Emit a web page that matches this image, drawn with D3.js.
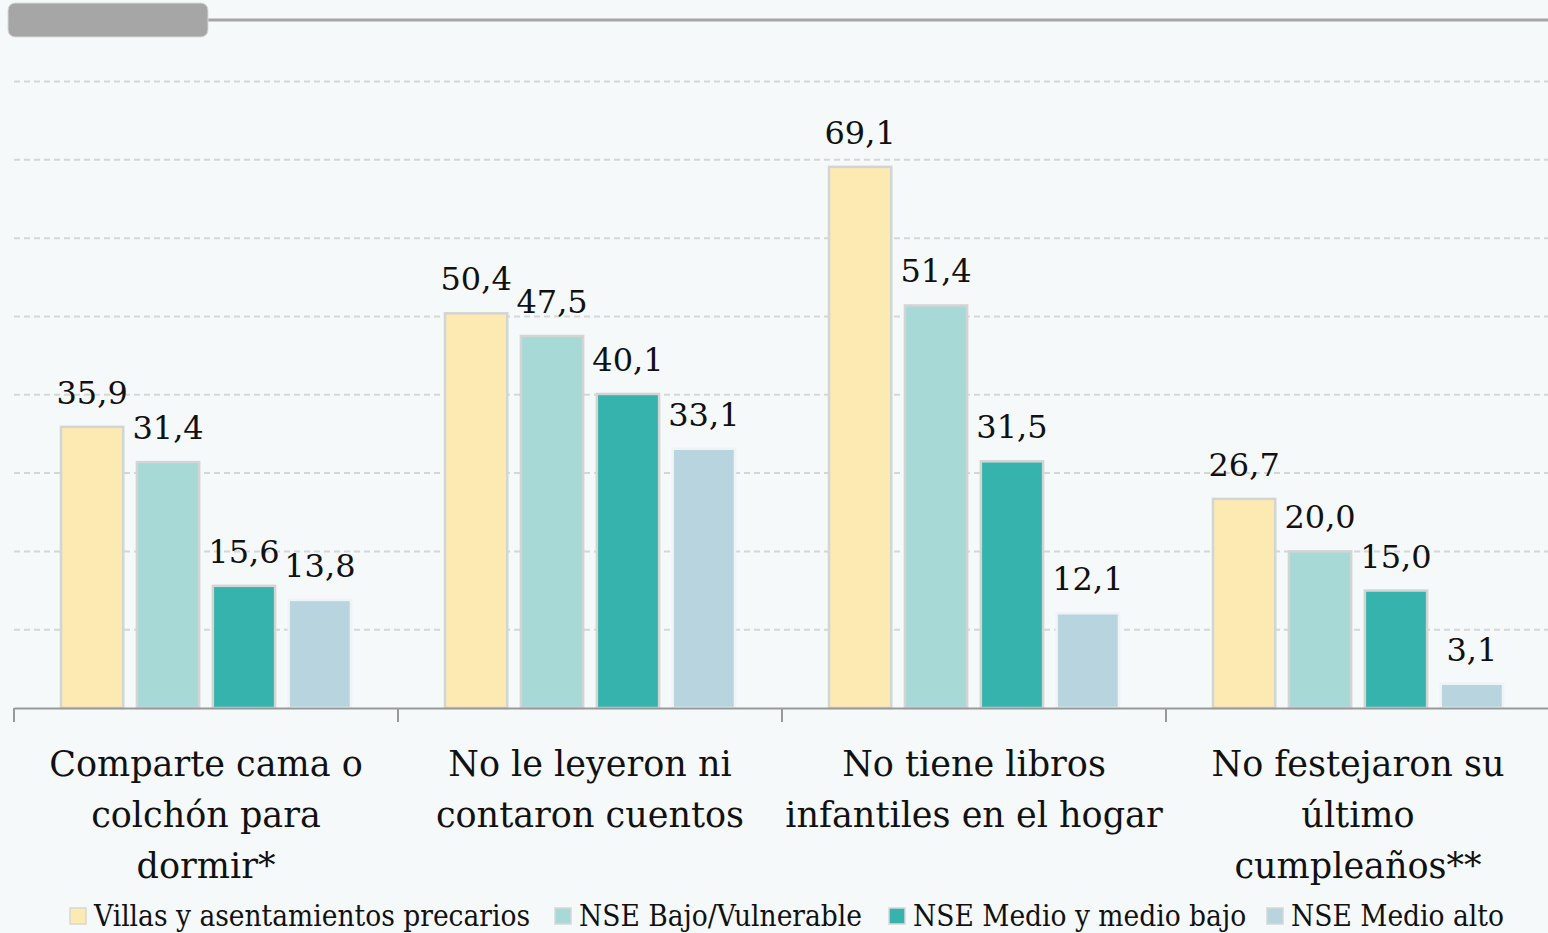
<!DOCTYPE html>
<html><head><meta charset="utf-8">
<script src="https://cdn.jsdelivr.net/npm/d3@7"></script>
<style>
html,body{margin:0;padding:0;background:#f5f9fa;}
svg{display:block;}
</style></head>
<body>
<svg id="chart" width="1548" height="933"></svg>
<script>
const categories = [
  ["Comparte cama o", "colchón para", "dormir*"],
  ["No le leyeron ni", "contaron cuentos"],
  ["No tiene libros", "infantiles en el hogar"],
  ["No festejaron su", "último", "cumpleaños**"]
];
const seriesNames = ["Villas y asentamientos precarios", "NSE Bajo/Vulnerable", "NSE Medio y medio bajo", "NSE Medio alto"];
const villas = [35.9, 50.4, 69.1, 26.7];
const bajo = [31.4, 47.5, 51.4, 20.0];
const medio = [15.6, 40.1, 31.5, 15.0];
const alto = [13.8, 33.1, 12.1, 3.1];
const yTicks = [0, 10, 20, 30, 40, 50, 60, 70, 80];
const colors = ["#fde9b2", "#a7d9d7", "#37b3ad", "#b8d4df"];

const series = [villas, bajo, medio, alto];
const svg = d3.select("#chart");
const W = 1548, H = 933;
svg.append("rect").attr("width", W).attr("height", H).attr("fill", "#f5f9fa");

const catIdx = d3.range(categories.length);
const x0 = d3.scaleBand().domain(catIdx).range([14, 1550]).padding(0);
const x1 = d3.scaleBand().domain(d3.range(series.length)).range([47, 337]).paddingInner(0.18);
const y = d3.scaleLinear().domain([0, 80]).range([708, 81.5]);

// top decoration
svg.append("line").attr("x1", 200).attr("x2", W).attr("y1", 20).attr("y2", 20)
  .attr("stroke", "#a6a6a6").attr("stroke-width", 3);
svg.append("rect").attr("x", 8).attr("y", 3).attr("width", 200).attr("height", 34)
  .attr("rx", 7).attr("fill", "#a6a6a6").attr("stroke", "#d9d9d9").attr("stroke-width", 1);

// gridlines
svg.append("g").selectAll("line").data(yTicks.filter(d => d > 0)).join("line")
  .attr("x1", 14).attr("x2", W).attr("y1", d => y(d)).attr("y2", d => y(d))
  .attr("stroke", "#d6d6d6").attr("stroke-width", 2).attr("stroke-dasharray", "6,4");

// bars
const groups = svg.append("g").selectAll("g").data(catIdx).join("g")
  .attr("transform", c => `translate(${x0(c)},0)`);
groups.selectAll("rect").data(c => series.map((s, i) => ({ i, v: s[c] }))).join("rect")
  .attr("x", d => x1(d.i)).attr("width", x1.bandwidth())
  .attr("y", d => y(d.v)).attr("height", d => y(0) - y(d.v))
  .attr("fill", d => colors[d.i])
  .attr("stroke", d => d.i === 3 ? "#eef3f5" : "#d3d5d5").attr("stroke-width", 2.5);
groups.selectAll("text").data(c => series.map((s, i) => ({ i, v: s[c] }))).join("text")
  .attr("x", d => x1(d.i) + x1.bandwidth() / 2).attr("y", d => y(d.v) - 23)
  .attr("text-anchor", "middle")
  .attr("font-family", "DejaVu Serif").attr("font-size", 32).attr("fill", "#111")
  .text(d => d.v.toFixed(1).replace(".", ","));

// axis
const axis = d3.axisBottom(x0).tickValues([]).tickSizeOuter(0);
const ax = svg.append("g").attr("transform", `translate(0,${y(0)})`).call(axis);
ax.select(".domain").attr("stroke", "#999").attr("stroke-width", 2);
ax.selectAll(".sep").data(catIdx).join("line").attr("class", "sep")
  .attr("x1", c => x0(c)).attr("x2", c => x0(c)).attr("y1", 0).attr("y2", 14)
  .attr("stroke", "#999").attr("stroke-width", 2);

// category labels
const cl = svg.append("g").selectAll("text").data(catIdx).join("text")
  .attr("text-anchor", "middle")
  .attr("font-family", "DejaVu Serif").attr("font-size", 35).attr("fill", "#111");
cl.selectAll("tspan").data(c => categories[c].map(t => ({ c, t }))).join("tspan")
  .attr("x", d => x0(d.c) + x0.bandwidth() / 2)
  .attr("y", (d, i) => 776 + i * 51)
  .text(d => d.t);

// legend
const legX = [70, 555, 889, 1267];
const leg = svg.append("g").selectAll("g").data(seriesNames).join("g")
  .attr("transform", (d, i) => `translate(${legX[i]},908)`);
leg.append("rect").attr("width", 16).attr("height", 16)
  .attr("fill", (d, i) => colors[i]).attr("stroke", "#d6d8d8").attr("stroke-width", 1.5);
leg.append("text").attr("x", 24).attr("y", 18)
  .attr("font-family", "DejaVu Serif Condensed, DejaVu Serif").attr("font-stretch", "condensed")
  .attr("font-size", 29.5).attr("fill", "#111")
  .text(d => d);
</script>
</body></html>
